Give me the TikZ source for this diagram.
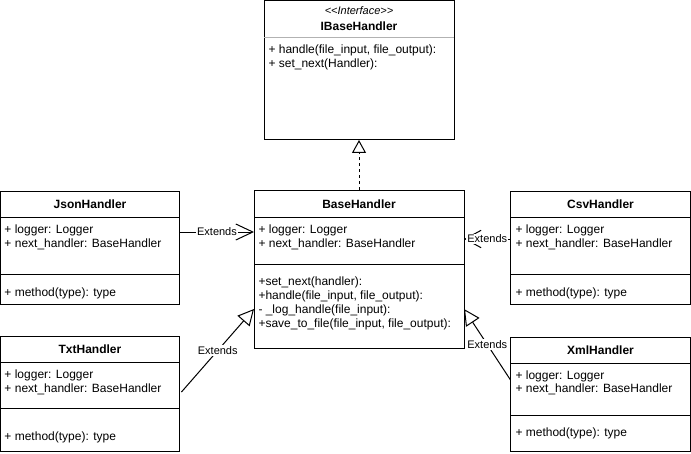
\documentclass[tikz,border=0pt]{standalone}
\usepackage{fontspec}
\setmainfont{Liberation Sans}
\usetikzlibrary{arrows.meta,calc}

\begin{document}
\begin{tikzpicture}[x=0.75pt,y=-0.75pt,line width=0.75pt,font=\fontsize{9}{11}\selectfont]
\tikzstyle{box}=[draw,rectangle,inner sep=0,outer sep=0,anchor=north west]
\tikzstyle{title}=[inner sep=0,font=\fontsize{9}{11}\selectfont\bfseries]
\tikzstyle{member}=[anchor=base west,inner sep=0]
\tikzstyle{lbl}=[fill=white,inner sep=1pt,font=\fontsize{8.25}{10}\selectfont]
\tikzstyle{extends}=[-{Triangle[open,length=12pt,width=12pt]}]
\tikzstyle{realize}=[dash pattern=on 2.25pt off 2.25pt,-{Triangle[open,length=9.75pt,width=10.5pt]}]
\useasboundingbox (0,0) rectangle (691,453);
% boxes
\node[box,minimum width=142.5pt,minimum height=104.6pt] (ibase) at (264,0.5) {};
\node[box,minimum width=157.5pt,minimum height=118.5pt] (base) at (254,190) {};
\node[box,minimum width=134.6pt,minimum height=84.75pt] (json) at (0.5,191) {};
\node[box,minimum width=135pt,minimum height=84.75pt] (csv) at (510.5,191) {};
\node[box,minimum width=134.6pt,minimum height=86.25pt] (txt) at (0.5,336) {};
\node[box,minimum width=135pt,minimum height=85.5pt] (xml) at (510.5,337) {};
% compartments
\draw[gray!60] ($(ibase.north west)+(0,37.5)$) -- ($(ibase.north east)+(0,37.5)$);
\draw ($(base.north west)+(0,27)$) -- ($(base.north east)+(0,27)$);
\draw ($(base.north west)+(0,74)$) -- ($(base.north east)+(0,74)$);
\draw ($(json.north west)+(0,26)$) -- ($(json.north east)+(0,26)$);
\draw ($(json.north west)+(0,83)$) -- ($(json.north east)+(0,83)$);
\draw ($(csv.north west)+(0,26)$) -- ($(csv.north east)+(0,26)$);
\draw ($(csv.north west)+(0,83)$) -- ($(csv.north east)+(0,83)$);
\draw ($(txt.north west)+(0,26)$) -- ($(txt.north east)+(0,26)$);
\draw ($(txt.north west)+(0,72)$) -- ($(txt.north east)+(0,72)$);
\draw ($(xml.north west)+(0,26)$) -- ($(xml.north east)+(0,26)$);
\draw ($(xml.north west)+(0,78)$) -- ($(xml.north east)+(0,78)$);
% IBaseHandler
\node[inner sep=0,font=\fontsize{8.25}{10}\selectfont\itshape] (ibase0) at (359,11) {\mbox{<}\mbox{<}Interface\mbox{>}\mbox{>}};
\node[title] (ibaseT) at (359,26) {IBaseHandler};
\node[member] (ibase1) at (268,54) {+ handle(file\_input, file\_output):};
\node[member] (ibase2) at (268,68) {+ set\_next(Handler):};
% BaseHandler
\node[title] (baseT) at (359,204) {BaseHandler};
\node[member] (base1) at (258,233) {+ logger: Logger};
\node[member] (base2) at (258,247) {+ next\_handler: BaseHandler};
\node[member] (base3) at (258,285) {+set\_next(handler):};
\node[member] (base4) at (258,299) {+handle(file\_input, file\_output):};
\node[member] (base5) at (258,313) {- \_log\_handle(file\_input):};
\node[member] (base6) at (258,327) {+save\_to\_file(file\_input, file\_output):};
% JsonHandler
\node[title] (jsonT) at (90,204) {JsonHandler};
\node[member] (json1) at (4,233) {+ logger: Logger};
\node[member] (json2) at (4,247) {+ next\_handler: BaseHandler};
\node[member] (json3) at (4,296) {+ method(type): type};
% CsvHandler
\node[title] (csvT) at (600.5,204) {CsvHandler};
\node[member] (csv1) at (515,233) {+ logger: Logger};
\node[member] (csv2) at (515,247) {+ next\_handler: BaseHandler};
\node[member] (csv3) at (515,296) {+ method(type): type};
% TxtHandler
\node[title] (txtT) at (90,349) {TxtHandler};
\node[member] (txt1) at (4,378) {+ logger: Logger};
\node[member] (txt2) at (4,392) {+ next\_handler: BaseHandler};
\node[member] (txt3) at (4,440) {+ method(type): type};
% XmlHandler
\node[title] (xmlT) at (600.5,350) {XmlHandler};
\node[member] (xml1) at (515,379) {+ logger: Logger};
\node[member] (xml2) at (515,392) {+ next\_handler: BaseHandler};
\node[member] (xml3) at (515,436) {+ method(type): type};
% connectors
\draw[realize] (base.north) -- (ibase.south);
\draw[-{Straight Barb[length=12.75pt,width=12pt]}] ($(json.north east)+(0,41)$) -- node[lbl] (ext1) {Extends} ($(base.north west)+(0,42)$);
\draw[dashed,-{Straight Barb[length=12pt,width=13pt]}] ($(csv.north west)+(0,48)$) -- node[lbl] (ext2) {Extends} ($(base.north east)+(0,49)$);
\draw[extends] ($(txt.north east)+(1.5,56)$) -- node[lbl] (ext3) {Extends} ($(base.north west)+(0,119)$);
\draw[extends] ($(xml.north west)+(0,43)$) -- node[lbl] (ext4) {Extends} ($(base.north east)+(0,119)$);
\end{tikzpicture}
\end{document}
